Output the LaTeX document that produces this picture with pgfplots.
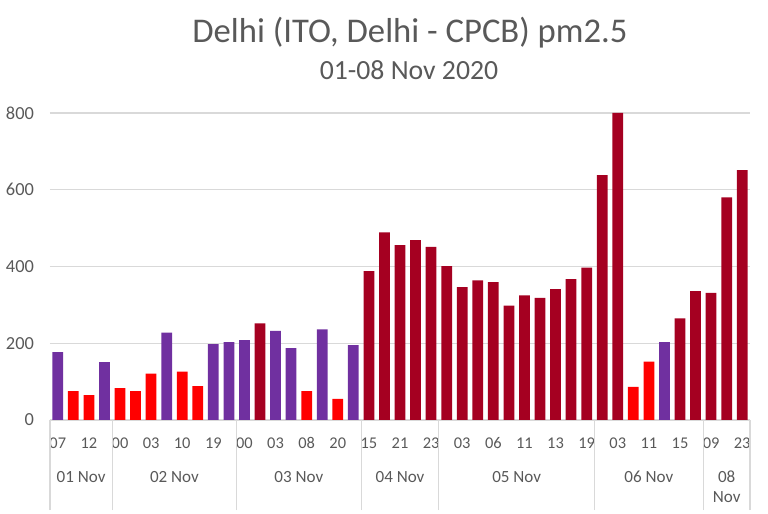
\documentclass[border=0pt]{standalone}
\usepackage{fontspec}
\setmainfont{Carlito}
\usepackage{pgfplots}
\pgfplotsset{compat=1.18}
\definecolor{txt}{HTML}{595959}
\definecolor{gridc}{HTML}{D9D9D9}
\definecolor{cpurple}{HTML}{7030A0}
\definecolor{cred}{HTML}{FF0000}
\definecolor{cdark}{HTML}{A50021}
\begin{document}
\begin{tikzpicture}
\path[use as bounding box] (-37.5pt,-70.5pt) rectangle (538.5pt,315pt);
\begin{axis}[
  at={(0pt,0pt)}, anchor=origin,
  scale only axis,
  width=525pt, height=230.25pt,
  xmin=0.5, xmax=45.5, ymin=0, ymax=800,
  ytick={0,200,400,600,800},
  ymajorgrids, grid style={gridc, line width=0.9pt},
  axis line style={draw=none},
  tick pos=left,
  major tick length=0pt,
  xtick={1,3,...,45},
  xticklabels={07,12,00,03,10,19,00,03,08,20,15,21,23,03,06,11,13,19,03,11,15,09,23},
  extra x ticks={0.5,4.5,12.5,20.5,25.5,35.5,42.5,45.5},
  extra x tick labels={},
  extra x tick style={major tick length=67.5pt, tick align=outside, xmajorgrids=false, tick style={gridc, line width=0.9pt}},
  xticklabel style={font=\fontsize{12.3}{14}\selectfont, text=txt, anchor=base, yshift=-21pt},
  yticklabel style={font=\fontsize{13.8}{15}\selectfont, text=txt, anchor=east, xshift=-8.5pt},
  /pgf/number format/assume math mode=true,
  ybar, bar width=0.69,
  clip=false,
]
\addplot[ybar, bar shift=0pt, fill=cpurple, draw=none] coordinates {
(1,177)(4,151)(8,228)(11,198)(12,203)(13,208)(15,232)(16,187)(18,236)(20,195)(40,203)};
\addplot[ybar, bar shift=0pt, fill=cred, draw=none] coordinates {
(2,75)(3,65)(5,83)(6,75)(7,121)(9,126)(10,88)(17,75)(19,55)(38,86)(39,152)};
\addplot[ybar, bar shift=0pt, fill=cdark, draw=none] coordinates {
(14,252)(21,388)(22,489)(23,456)(24,469)(25,451)(26,401)(27,346)(28,364)(29,359)(30,298)(31,325)(32,318)(33,341)(34,367)(35,397)(36,638)(37,800)(41,265)(42,336)(43,331)(44,580)(45,651)};
\end{axis}
\begin{scope}[every node/.style={text=txt, font=\fontsize{12.8}{14}\selectfont, anchor=base}]
\node at (23.33pt,-47.25pt) {01 Nov};
\node at (93.33pt,-47.25pt) {02 Nov};
\node at (186.67pt,-47.25pt) {03 Nov};
\node at (262.5pt,-47.25pt) {04 Nov};
\node at (350pt,-47.25pt) {05 Nov};
\node at (449.17pt,-47.25pt) {06 Nov};
\node at (507.5pt,-47.25pt) {08};
\node at (507.5pt,-62.25pt) {Nov};
\end{scope}
\node[text=txt, font=\fontsize{26}{30}\selectfont, anchor=base] at (270pt,282.75pt) {Delhi (ITO, Delhi - CPCB) pm2.5};
\node[text=txt, font=\fontsize{20.8}{24}\selectfont, anchor=base] at (269.25pt,255pt) {01-08 Nov 2020};
\end{tikzpicture}
\end{document}
